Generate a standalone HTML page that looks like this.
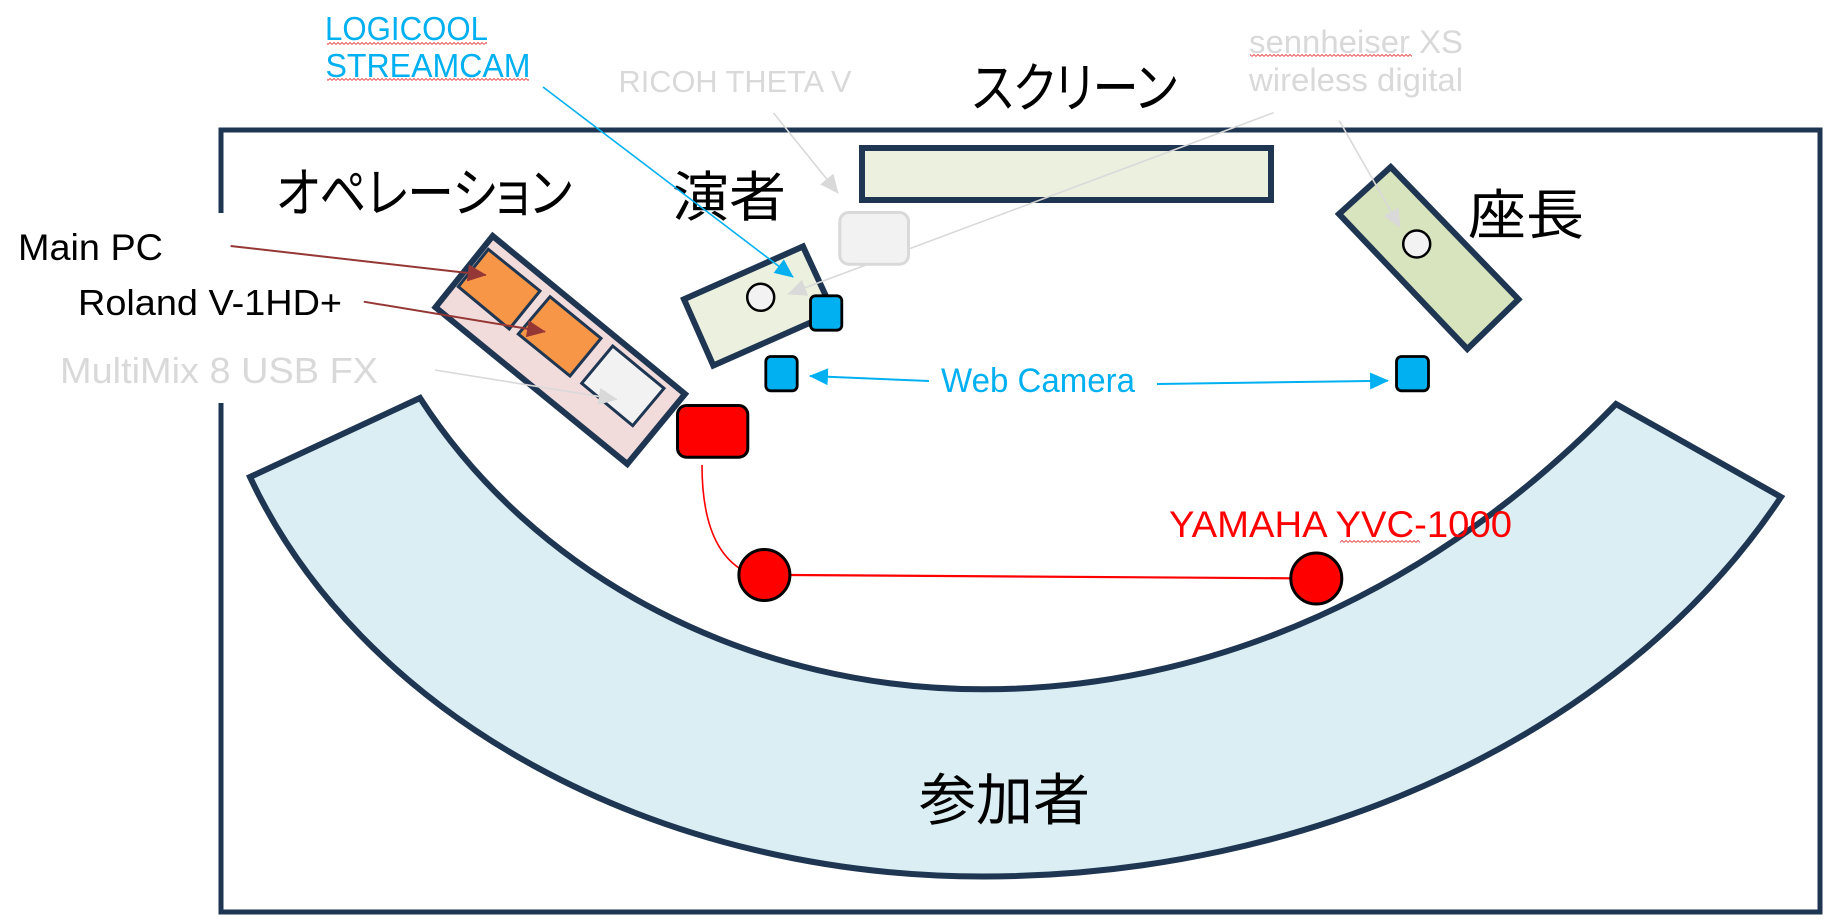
<!DOCTYPE html>
<html>
<head>
<meta charset="utf-8">
<style>
html,body{margin:0;padding:0;background:#ffffff;}
svg{display:block;}
.jp{font-family:"Liberation Sans","Noto Sans CJK JP",sans-serif;font-feature-settings:"palt";}
.lt{font-family:"Liberation Sans","Noto Sans CJK JP",sans-serif;}
</style>
</head>
<body>
<svg width="1837" height="922" viewBox="0 0 1837 922" xmlns="http://www.w3.org/2000/svg">
<defs>
  <marker id="mBlue" viewBox="0 0 20 18" refX="19" refY="9" markerWidth="19" markerHeight="17" markerUnits="userSpaceOnUse" orient="auto"><path d="M0,0L20,9L0,18z" fill="#00B0F0"/></marker>
  <marker id="mGray" viewBox="0 0 20 18" refX="19" refY="9" markerWidth="19" markerHeight="17" markerUnits="userSpaceOnUse" orient="auto"><path d="M0,0L20,9L0,18z" fill="#D9D9D9"/></marker>
  <marker id="mRed" viewBox="0 0 20 18" refX="19" refY="9" markerWidth="19" markerHeight="17" markerUnits="userSpaceOnUse" orient="auto"><path d="M0,0L20,9L0,18z" fill="#953735"/></marker>
  <pattern id="sq" width="4" height="3" patternUnits="userSpaceOnUse"><path d="M0,2.5 L2,0.5 L4,2.5" fill="none" stroke="#E03030" stroke-width="0.8"/></pattern>
</defs>

<!-- outer room frame -->
<path d="M221,213 L221,130 L1820,130 L1820,912 L221,912 L221,403" fill="none" stroke="#1F3653" stroke-width="5"/>

<!-- participants block arc -->
<path d="M420,398 A650,582 0 0 0 983,689.3 A1000,1268 0 0 0 1616,404 L1781,497 A900,703 0 0 1 983,876.5 A780,607 0 0 1 250,477 Z" fill="#DAEEF3" stroke="#1F3653" stroke-width="6" stroke-linejoin="miter"/>

<!-- screen -->
<rect x="862" y="148" width="409" height="52" fill="#EBF1DE" stroke="#1F3653" stroke-width="6"/>

<!-- operation table -->
<polygon points="492.7,236 685,394 627.3,464 435.5,307.3" fill="#F2DCDB" stroke="#1F3653" stroke-width="6" stroke-linejoin="miter"/>
<polygon points="488.3,249.3 540,291 509.3,329 458.3,286.7" fill="#F79646" stroke="#1F3653" stroke-width="3"/>
<polygon points="550,296.7 601,338.3 570,376 518.3,334" fill="#F79646" stroke="#1F3653" stroke-width="3"/>
<polygon points="612.7,346 664,388.3 632.7,425.7 581.7,383.3" fill="#F2F2F2" stroke="#1F3653" stroke-width="3"/>

<!-- presenter table -->
<polygon points="684,299.3 803,246.5 833.5,312.4 713.3,365.5" fill="#EBF1DE" stroke="#1F3653" stroke-width="6"/>
<circle cx="760.7" cy="297.3" r="13.5" fill="#F2F2F2" stroke="#000" stroke-width="2.5"/>

<!-- chair table -->
<polygon points="1390.7,167 1518.5,299.3 1467.3,349 1339,214" fill="#D7E4BD" stroke="#1F3653" stroke-width="6"/>
<circle cx="1416.7" cy="244" r="13.5" fill="#F2F2F2" stroke="#000" stroke-width="2.5"/>

<!-- YAMAHA system -->
<path d="M702,465 C702,510 711,549 739,568" fill="none" stroke="#FF0000" stroke-width="1.6"/>
<line x1="790" y1="575" x2="1291" y2="578.3" stroke="#FF0000" stroke-width="2.2"/>
<rect x="677.5" y="405.5" width="70.3" height="51.7" rx="9" fill="#FF0000" stroke="#000" stroke-width="3"/>
<circle cx="764.4" cy="575" r="25.5" fill="#FF0000" stroke="#000" stroke-width="3"/>
<circle cx="1316.3" cy="578.5" r="25.5" fill="#FF0000" stroke="#000" stroke-width="3"/>

<!-- sennheiser -> presenter (under theta device) -->
<line x1="1273.6" y1="112.7" x2="788.3" y2="294" stroke="#D9D9D9" stroke-width="1.6" marker-end="url(#mGray)"/>

<!-- RICOH THETA device -->
<rect x="839.8" y="212.5" width="68.7" height="51.7" rx="9" fill="#F2F2F2" stroke="#D9D9D9" stroke-width="3"/>

<!-- web cameras -->
<rect x="810.5" y="295.8" width="31.3" height="34.4" rx="5" fill="#00B0F0" stroke="#000" stroke-width="2.8"/>
<rect x="765.8" y="356.5" width="31.4" height="34.3" rx="5" fill="#00B0F0" stroke="#000" stroke-width="2.8"/>
<rect x="1396.5" y="356.5" width="32" height="34.3" rx="5" fill="#00B0F0" stroke="#000" stroke-width="2.8"/>

<!-- labels -->
<text class="jp" x="972" y="107" font-size="54" textLength="205" lengthAdjust="spacingAndGlyphs" fill="#000">スクリーン</text>
<text class="jp" x="276" y="212" font-size="54" textLength="296" lengthAdjust="spacingAndGlyphs" fill="#000">オペレーション</text>
<text class="jp" x="672" y="216" font-size="54" textLength="114" lengthAdjust="spacingAndGlyphs" fill="#000">演者</text>
<text class="jp" x="1468" y="234" font-size="54" textLength="116" lengthAdjust="spacingAndGlyphs" fill="#000">座長</text>
<text class="jp" x="919" y="820" font-size="56" textLength="171" lengthAdjust="spacingAndGlyphs" fill="#000">参加者</text>

<text class="lt" x="325" y="40" font-size="33" textLength="163" lengthAdjust="spacingAndGlyphs" fill="#00B0F0">LOGICOOL</text>
<text class="lt" x="325.5" y="77" font-size="33" textLength="205" lengthAdjust="spacingAndGlyphs" fill="#00B0F0">STREAMCAM</text>
<rect x="327" y="42" width="160" height="3" fill="url(#sq)"/>
<rect x="327" y="78" width="202" height="3" fill="url(#sq)"/>

<text class="lt" x="618.5" y="92" font-size="31" textLength="233" lengthAdjust="spacingAndGlyphs" fill="#D9D9D9">RICOH THETA V</text>
<text class="lt" x="1249" y="53" font-size="32" textLength="214" lengthAdjust="spacingAndGlyphs" fill="#D9D9D9">sennheiser XS</text>
<rect x="1250" y="54" width="162" height="3" fill="url(#sq)"/>
<text class="lt" x="1249" y="91" font-size="32" textLength="214" lengthAdjust="spacingAndGlyphs" fill="#D9D9D9">wireless digital</text>

<text class="lt" x="18" y="260" font-size="37" textLength="145" lengthAdjust="spacingAndGlyphs" fill="#000">Main PC</text>
<text class="lt" x="78" y="315" font-size="36" textLength="264" lengthAdjust="spacingAndGlyphs" fill="#000">Roland V-1HD+</text>
<text class="lt" x="60" y="383" font-size="36" textLength="318" lengthAdjust="spacingAndGlyphs" fill="#D9D9D9">MultiMix 8 USB FX</text>

<text class="lt" x="941" y="392" font-size="34" textLength="194" lengthAdjust="spacingAndGlyphs" fill="#00B0F0">Web Camera</text>
<text class="lt" x="1169" y="537" font-size="37" textLength="343" lengthAdjust="spacingAndGlyphs" fill="#FF0000">YAMAHA YVC-1000</text>
<rect x="1340" y="540" width="80" height="3" fill="url(#sq)"/>

<!-- arrows -->
<line x1="543" y1="87" x2="793" y2="277" stroke="#00B0F0" stroke-width="1.6" marker-end="url(#mBlue)"/>
<line x1="773.5" y1="113" x2="838" y2="193" stroke="#D9D9D9" stroke-width="1.6" marker-end="url(#mGray)"/>
<line x1="1339.3" y1="120.7" x2="1400" y2="227.3" stroke="#D9D9D9" stroke-width="1.6" marker-end="url(#mGray)"/>
<line x1="230.6" y1="246" x2="485.7" y2="275" stroke="#953735" stroke-width="2" marker-end="url(#mRed)"/>
<line x1="363.8" y1="301.7" x2="545" y2="331.7" stroke="#953735" stroke-width="2" marker-end="url(#mRed)"/>
<line x1="435" y1="370" x2="616.7" y2="399.3" stroke="#D9D9D9" stroke-width="1.6" marker-end="url(#mGray)"/>
<line x1="929" y1="381" x2="810" y2="376" stroke="#00B0F0" stroke-width="2" marker-end="url(#mBlue)"/>
<line x1="1157" y1="384" x2="1388" y2="380.7" stroke="#00B0F0" stroke-width="2" marker-end="url(#mBlue)"/>
</svg>
</body>
</html>
